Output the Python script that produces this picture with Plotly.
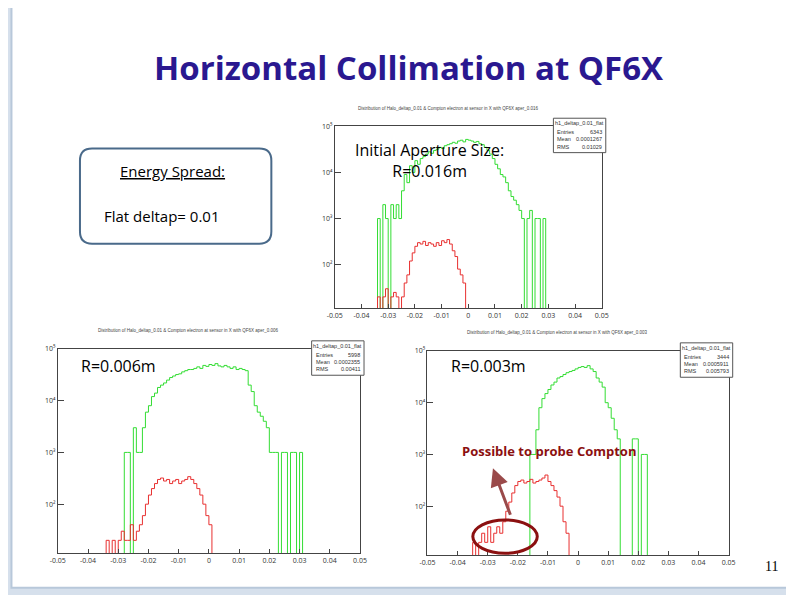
import plotly.graph_objects as go

W, H = 794, 595
edges_x = [round(-0.05 + 0.001 * i, 3) for i in range(101)]
xticks = [-0.05, -0.04, -0.03, -0.02, -0.01, 0, 0.01, 0.02, 0.03, 0.04, 0.05]
xtick_text = ["-0.05", "-0.04", "-0.03", "-0.02", "-0.01", "0", "0.01", "0.02", "0.03", "0.04", "0.05"]
ytick_vals = [100, 1000, 10000, 100000]
ytick_text = ["10²", "10³", "10⁴", "10⁵"]

# 100 bins each, 0.001 wide, from -0.05 to 0.05 (1 = empty bin)
green_016 = [1]*16 + [1000, 1, 2000, 1000, 1, 2000, 1000, 2000, 1000, 4000, 9000, 6000, 14000, 10000,
             18000, 15000, 20000, 22000, 25000, 28000, 26000, 30000, 32000, 35000, 33000, 38000, 40000,
             42000, 45000, 43000, 48000, 50000, 46000, 52000, 50000, 48000, 45000, 47000, 42000, 40000,
             35000, 30000, 25000, 20000, 15000, 12000, 9000, 8000, 6000, 4000, 3000, 2500, 2000, 1500,
             1000, 1, 1000, 1500, 1, 1000, 1000, 1, 1000] + [1]*21
red_016 = [1]*16 + [20, 1, 20, 30, 1, 20, 25, 20, 1, 20, 40, 60, 120, 180, 250, 300, 280, 320, 260,
           300, 280, 250, 300, 260, 330, 300, 350, 280, 200, 150, 80, 60, 40, 1] + [1]*50
green_006 = [1]*22 + [1000, 1000, 1, 3000, 1000, 1000, 3000, 6000, 8000, 12000, 14000, 18000, 20000,
             22000, 25000, 28000, 30000, 32000, 33000, 36000, 38000, 40000, 40000, 42000, 45000, 42000,
             48000, 46000, 50000, 48000, 52000, 47000, 45000, 48000, 45000, 42000, 45000, 40000, 42000,
             40000, 38000, 20000, 15000, 8000, 6000, 5000, 4000, 3000, 1000, 1000, 1000, 1, 1000, 1000,
             1, 1000, 1000, 1, 1000] + [1]*20
red_006 = [1]*16 + [20, 1, 20, 1, 20, 30, 20, 20, 40, 20, 30, 40, 60, 100, 150, 200, 250, 300, 320,
           280, 300, 250, 280, 300, 250, 280, 300, 340, 300, 250, 200, 150, 100, 60, 40, 1] + [1]*48
green_003 = [1]*34 + [1000, 1000, 3000, 8000, 12000, 15000, 18000, 22000, 25000, 30000, 32000, 35000,
             38000, 40000, 42000, 45000, 48000, 50000, 48000, 52000, 45000, 40000, 30000, 25000, 20000,
             10000, 8000, 5000, 3000, 2000, 1, 1, 1, 1, 2000, 2000, 1, 1000, 1000] + [1]*27
red_003 = [1]*15 + [20, 1, 20, 30, 20, 40, 20, 30, 40, 30, 50, 80, 120, 180, 250, 300, 320, 280, 300,
           330, 280, 300, 320, 350, 400, 300, 250, 200, 150, 100, 50, 30, 1] + [1]*52

plots = [
    dict(g=green_016, r=red_016, box=(333, 598, 128, 308),
         title="Distribution of Halo_deltap_0.01 & Compton electron at sensor in X with QF6X aper_0.016",
         stats=("h1_deltap_0.01_flat", "6343", "0.0001267", "0.01029")),
    dict(g=green_006, r=red_006, box=(58, 358, 348, 550),
         title="Distribution of Halo_deltap_0.01 & Compton electron at sensor in X with QF6X aper_0.006",
         stats=("h1_deltap_0.01_flat", "5998", "0.0002355", "0.00411")),
    dict(g=green_003, r=red_003, box=(425, 724, 350, 552),
         title="Distribution of Halo_deltap_0.01 & Compton electron at sensor in X with QF6X aper_0.003",
         stats=("h1_deltap_0.01_flat", "3444", "0.0005911", "0.005793")),
]

# map target-picture pixels to paper fractions (compensates the observed render offset)
def PX(x):
    return (x - 16.5) / 0.974 / W
def PY(y):
    return 1 - (y - 16) / 0.98 / H

def A(x, y, text, size, color="black", family="Open Sans", **kw):
    d = dict(xref="paper", yref="paper", x=PX(x), y=PY(y), text=text, showarrow=False,
             xanchor="center", yanchor="middle", font=dict(size=size, color=color, family=family))
    d.update(kw)
    return d

def rect(x0, x1, y0, y1, **kw):
    d = dict(type="rect", xref="paper", yref="paper", x0=PX(x0), x1=PX(x1), y0=PY(y1), y1=PY(y0))
    d.update(kw)
    return d

fig = go.Figure()
shapes, annos = [], []
shapes.append(dict(type="rect", xref="paper", yref="paper", x0=-0.1, x1=1.1, y0=-0.1, y1=1.1,
                   fillcolor="#d6e0ec", line_width=0, layer="below"))
shapes.append(rect(12, 782, 10, 584, fillcolor="white", line=dict(color="#b8c8da", width=2), layer="below"))
for i, p in enumerate(plots):
    x0, x1, y0, y1 = p["box"]
    ax = "" if i == 0 else str(i + 1)
    shapes.append(rect(x0-32, x1+12, y0-25, y1+20, fillcolor="white", line_width=0, layer="below"))
    for vals, col in ((p["g"], "#33dd33"), (p["r"], "#e83030")):
        fig.add_trace(go.Scatter(x=edges_x, y=vals + [vals[-1]], mode="lines", line_shape="hv",
                                 line=dict(color=col, width=1), xaxis="x" + ax, yaxis="y" + ax,
                                 showlegend=False, hoverinfo="skip"))
    fig.layout["xaxis" + ax] = dict(domain=[PX(x0), PX(x1)], anchor="y" + ax, range=[-0.05, 0.05],
                                    tickvals=xticks, ticktext=xtick_text, tickfont=dict(size=7, color="#333"),
                                    showgrid=False, zeroline=False, showline=True, linecolor="#444",
                                    mirror=True, ticks="inside", ticklen=4)
    fig.layout["yaxis" + ax] = dict(domain=[PY(y1), PY(y0)], anchor="x" + ax, type="log", range=[1.05, 5],
                                    tickvals=ytick_vals, ticktext=ytick_text, tickfont=dict(size=7, color="#333"),
                                    showgrid=False, zeroline=False, showline=True, linecolor="#444",
                                    mirror=True, ticks="inside", ticklen=6)
    annos.append(A((x0+x1)/2 - 20, y0-18, p["title"], 4.5, "#444", "Liberation Sans"))
    name, ent, mean, rms = p["stats"]
    bx0, bx1 = x1 - 48, x1 + 4
    shapes.append(rect(bx0, bx1, y0-8, y0+26, fillcolor="white", line=dict(color="#555", width=1)))
    annos.append(A((bx0+bx1)/2, y0-3, name, 5.5, "#333", "Liberation Sans"))
    for k, (lab, v) in enumerate((("Entries", ent), ("Mean", mean), ("RMS", rms))):
        yy = y0 + 6 + k * 7
        annos.append(A(bx0+2, yy, lab, 5.5, "#333", "Liberation Sans", xanchor="left"))
        annos.append(A(bx1-2, yy, v, 5.5, "#333", "Liberation Sans", xanchor="right"))

annos.append(A(407, 70, "<b>Horizontal Collimation at QF6X</b>", 33, "#2a1890"))
pts = lambda x, y: f"{PX(x)},{PY(y)}"
shapes.append(dict(type="path", xref="paper", yref="paper",
                   path=f"M {pts(92,150)} L {pts(258,150)} Q {pts(270,150)} {pts(270,162)} "
                        f"L {pts(270,232)} Q {pts(270,244)} {pts(258,244)} L {pts(92,244)} "
                        f"Q {pts(80,244)} {pts(80,232)} L {pts(80,162)} Q {pts(80,150)} {pts(92,150)} Z",
                   line=dict(color="#4a6a8a", width=2), fillcolor="white"))
annos.append(A(172, 172, "<u>Energy Spread:</u>", 15))
annos.append(A(102, 217, "Flat deltap= 0.01", 15, xanchor="left"))
annos.append(A(427, 162, "Initial Aperture Size:<br>R=0.016m", 16))
annos.append(A(118, 365, "R=0.006m", 16))
annos.append(A(486, 365, "R=0.003m", 16))
annos.append(A(546, 449, "<b>Possible to probe Compton</b>", 13, "#8b1010"))
annos.append(dict(xref="paper", yref="paper", x=PX(490), y=PY(466), ax=18, ay=48, text="", showarrow=True,
                  arrowhead=2, arrowsize=1.2, arrowwidth=3, arrowcolor="#9a4a4a"))
shapes.append(dict(type="circle", xref="paper", yref="paper", x0=PX(470), x1=PX(534), y0=PY(550), y1=PY(517),
                   line=dict(color="#8b1010", width=3)))
annos.append(A(767, 563, "11", 14, family="Liberation Serif"))

fig.update_layout(width=W, height=H, margin=dict(l=0, r=0, t=0, b=0), plot_bgcolor="white",
                  paper_bgcolor="white", shapes=shapes, annotations=annos)
fig.write_html("out.html")
